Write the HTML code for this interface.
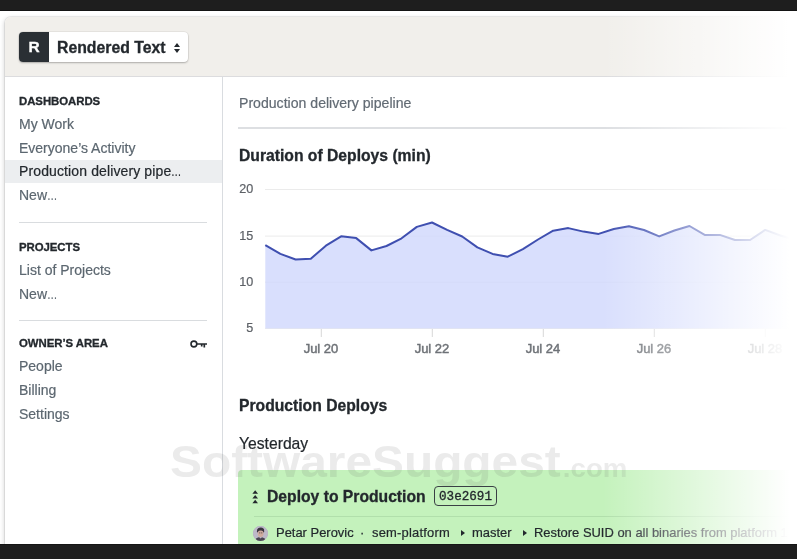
<!DOCTYPE html>
<html lang="en">
<head>
<meta charset="utf-8">
<title>Production delivery pipeline</title>
<style>
*{box-sizing:border-box;margin:0;padding:0}
html,body{width:797px;height:559px;overflow:hidden;background:#fff}
body{position:relative;font-family:"Liberation Sans",sans-serif;color:#2b3137;-webkit-font-smoothing:antialiased}
.topbar{position:absolute;left:0;top:0;width:797px;height:10px;background:#1e1e1e;border-bottom:1px solid #141414;height:11px;z-index:30}
.botbar{position:absolute;left:0;top:544px;width:797px;height:15px;background:#1e1e1e;border-top:1px solid #151515;z-index:30}
.win{position:absolute;left:5px;top:17px;width:900px;height:600px;background:#fff;border-radius:6px 0 0 0;box-shadow:0 0 0 1px rgba(0,0,0,.06),-1px 1px 4px rgba(0,0,0,.16);overflow:hidden}
.hdr{position:absolute;left:0;top:0;width:100%;height:60px;background:#f1efeb;border-bottom:1px solid #dcdcde}
.org{position:absolute;left:14px;top:15px;height:30px;width:169px;background:#fff;border-radius:4px;box-shadow:0 1px 2px rgba(0,0,0,.25),0 0 0 .5px rgba(0,0,0,.08)}
.org .sq{position:absolute;left:0;top:0;width:30px;height:30px;background:#2a2f34;border-radius:4px 0 0 4px;color:#fff;font-weight:bold;font-size:15.5px;line-height:30px;text-align:center;-webkit-text-stroke:.3px}
.org .nm{position:absolute;left:38px;top:0;line-height:32px;font-weight:bold;font-size:15.8px;color:#23282d;white-space:nowrap}
.org svg{position:absolute;left:155px;top:10.5px}
.side{position:absolute;left:0;top:60px;width:218px;height:540px;border-right:1px solid #d9dce0;background:#fff}
.side h4{position:absolute;left:14px;font-size:11.4px;font-weight:bold;letter-spacing:-.05px;color:#23282d;line-height:14px;white-space:nowrap}
.side a{position:absolute;left:14px;font-size:14px;color:#5c6770;line-height:18px;white-space:nowrap;text-decoration:none}
.side a.on{color:#23282d;letter-spacing:.12px}
.el{display:inline-block;transform:scaleX(.74);transform-origin:0 50%}

.side a,.crumb,.yest,.job .meta span{-webkit-text-stroke:.2px}
.org .nm,.main h2,.job .ttl,.side h4{-webkit-text-stroke:.3px}
.side .hl{position:absolute;left:0;top:83px;width:217px;height:23px;background:#eceef0}
.side hr{position:absolute;left:14px;width:188px;border:0;border-top:1px solid #d9dcdf;height:0}
.main{position:absolute;left:218px;top:60px;width:700px;height:540px}
.crumb{position:absolute;left:16px;top:17px;font-size:14.1px;color:#626b74;line-height:18px;white-space:nowrap}
.main hr.top{position:absolute;left:15px;top:50.3px;width:660px;border:0;height:1.4px;background:#dddfe2}
.main h2{position:absolute;left:16px;font-size:15.7px;font-weight:bold;color:#23282d;line-height:20px;white-space:nowrap}
.chart{position:absolute;left:0;top:0;z-index:5}
.yest{position:absolute;left:16px;top:357px;font-size:15.7px;color:#23282d;line-height:20px}
.job{position:absolute;left:15px;top:393px;width:680px;height:120px;background:#c4f2bc;border-radius:4px}
.job .ttl{position:absolute;left:29px;top:17px;font-size:15.7px;font-weight:bold;color:#23282d;line-height:20px;white-space:nowrap}
.job .sha{position:absolute;left:196px;top:16.3px;width:63px;height:20px;border:1px solid #3a4045;border-radius:4px;font-family:"Liberation Mono",monospace;font-size:12.6px;line-height:20.4px;text-align:center;color:#23282d;-webkit-text-stroke:.3px}
.job hr{position:absolute;left:16px;top:46px;width:660px;border:0;border-top:1px solid #b1dfab}
.job .meta span{position:absolute;top:54px;font-size:12.95px;color:#23282d;line-height:18px;white-space:nowrap}
.job .meta i{position:absolute;top:60px;width:0;height:0;border-left:4px solid #23282d;border-top:3.5px solid transparent;border-bottom:3.5px solid transparent}
.job .av{position:absolute;left:15.3px;top:55.6px;width:15px;height:15px;border-radius:50%;background:#a9a6b4;overflow:hidden}
.wm{position:absolute;left:170px;top:436px;font-size:45px;font-weight:bold;color:rgba(90,90,90,.12);line-height:52px;white-space:nowrap;z-index:20;transform:scaleX(1.063);transform-origin:0 0}
.wm small{font-size:26px;margin-left:2px}
.fade{position:absolute;left:603px;top:11px;width:194px;height:533px;background:linear-gradient(to right,rgba(255,255,255,0),rgba(255,255,255,1) 96%);z-index:25}
</style>
</head>
<body>
<div class="topbar"></div>
<div class="win">
  <div class="hdr">
    <div class="org"><div class="sq">R</div><div class="nm">Rendered Text</div>
      <svg width="6" height="10" viewBox="0 0 6 10"><path d="M3 0 L6 4 H0 Z M3 10 L0 6 H6 Z" fill="#23282d"/></svg>
    </div>
  </div>
  <div class="side">
    <div class="hl"></div>
    <h4 style="top:17px">DASHBOARDS</h4>
    <a style="top:38px">My Work</a>
    <a style="top:62px">Everyone’s Activity</a>
    <a class="on" style="top:85px">Production delivery pipe<span class="el">…</span></a>
    <a style="top:109px">New<span class="el">…</span></a>
    <hr style="top:145px">
    <h4 style="top:163px">PROJECTS</h4>
    <a style="top:184px">List of Projects</a>
    <a style="top:208px">New<span class="el">…</span></a>
    <hr style="top:243px">
    <h4 style="top:259px">OWNER’S AREA</h4>
    <svg style="position:absolute;left:185px;top:262.5px" width="18" height="9" viewBox="0 0 18 9"><circle cx="3.9" cy="4" r="2.9" fill="none" stroke="#23282d" stroke-width="1.6"/><path d="M6.8 4 H17 M11.7 4 V6.6 M14.3 4 V7.6" stroke="#23282d" stroke-width="1.7" fill="none"/></svg>
    <a style="top:280px">People</a>
    <a style="top:304px">Billing</a>
    <a style="top:328px">Settings</a>
  </div>
  <div class="main">
    <div class="crumb">Production delivery pipeline</div>
    <hr class="top">
    <h2 style="top:69px">Duration of Deploys (min)</h2>
    <h2 style="top:319px">Production Deploys</h2>
    <div class="yest">Yesterday</div>
    <div class="job">
      <svg style="position:absolute;left:14.3px;top:20.2px" width="6.4" height="14.6" viewBox="0 0 6 14"><path d="M3 0.3L5.7 3.6H0.3ZM3 4.8L5.7 8.1H0.3ZM3 9.3L5.7 12.6H0.3Z" fill="#23282d"/></svg>
      <div class="ttl">Deploy to Production</div>
      <div class="sha">03e2691</div>
      <hr>
      <svg class="av" viewBox="0 0 15 15"><rect width="15" height="15" fill="#bdb9c9"/><path d="M4 5.2C4 2.6 5.6 1.6 7.8 1.6S11.4 2.8 11.2 5.4L10.8 6.6H4.4Z" fill="#3b3640"/><ellipse cx="7.6" cy="7.4" rx="2.9" ry="3.5" fill="#cfac9f"/><path d="M4.6 5.6C5.6 4.2 9.4 4 10.6 5.6L10.8 3.6H4.4Z" fill="#3b3640"/><path d="M2 15C2.4 12 5 11.4 6.2 11.2L7.6 12.6L9 11.2C10.6 11.6 12.6 12.4 13 15Z" fill="#4a4652"/><path d="M6.1 6.9h1.2M8.1 6.9h1.2" stroke="#3b3640" stroke-width=".7"/></svg>
      <div class="meta"><span style="left:38px">Petar Perovic</span><span style="left:122px">·</span><span style="left:134px;letter-spacing:.2px">sem-platform</span><i style="left:222.5px"></i><span style="left:234px">master</span><i style="left:284.5px"></i><span style="left:296px">Restore SUID on all binaries from platform 1</span></div>
    </div>
  </div>
</div>
<svg class="chart" width="797" height="559" viewBox="0 0 797 559">
<g stroke="#ebebeb" stroke-width="1"><path d="M265 189.5H797M265 236.1H797M265 282.2H797M265 328.4H797"/></g>
<path d="M265.3 245.1 L280.4 253.9 L295.6 259.5 L310.8 258.7 L325.9 245.7 L341.1 236.3 L356.2 238.1 L371.4 250.4 L386.5 246.0 L401.6 238.3 L416.8 226.9 L432.0 222.5 L447.1 229.9 L462.2 236.5 L477.4 247.4 L492.6 253.9 L507.7 256.7 L522.9 249.2 L538.0 239.5 L553.2 230.7 L568.3 228.1 L583.5 231.6 L598.6 233.9 L613.8 229.0 L628.9 226.3 L644.0 230.0 L659.2 236.4 L674.4 230.5 L689.5 226.0 L704.7 234.9 L719.8 234.9 L735.0 240.0 L750.1 240.0 L765.2 229.9 L780.4 235.5 L795.5 240.0 L795.5 328.5 L265.3 328.5 Z" fill="rgba(207,215,253,.8)"/>
<path d="M265.3 245.1 L280.4 253.9 L295.6 259.5 L310.8 258.7 L325.9 245.7 L341.1 236.3 L356.2 238.1 L371.4 250.4 L386.5 246.0 L401.6 238.3 L416.8 226.9 L432.0 222.5 L447.1 229.9 L462.2 236.5 L477.4 247.4 L492.6 253.9 L507.7 256.7 L522.9 249.2 L538.0 239.5 L553.2 230.7 L568.3 228.1 L583.5 231.6 L598.6 233.9 L613.8 229.0 L628.9 226.3 L644.0 230.0 L659.2 236.4 L674.4 230.5 L689.5 226.0 L704.7 234.9 L719.8 234.9 L735.0 240.0 L750.1 240.0 L765.2 229.9 L780.4 235.5 L795.5 240.0" fill="none" stroke="#3f4fb0" stroke-width="2" stroke-linejoin="round"/>
<g stroke="#d8d8d8" stroke-width="1"><path d="M321.3 329V337M432.3 329V337M543.3 329V337M654.3 329V337M765.3 329V337"/></g>
<g font-family="'Liberation Sans',sans-serif" font-size="12.6" fill="#5d6167" stroke="#5d6167" stroke-width=".2" text-anchor="end"><text x="253.3" y="193.2">20</text><text x="253.3" y="239.7">15</text><text x="253.3" y="285.7">10</text><text x="253.3" y="332">5</text></g>
<g font-family="'Liberation Sans',sans-serif" font-size="13" fill="#6e7277" stroke="#6e7277" stroke-width=".45" text-anchor="middle"><text x="321" y="353">Jul 20</text><text x="432" y="353">Jul 22</text><text x="543" y="353">Jul 24</text><text x="654" y="353">Jul 26</text><text x="765" y="353">Jul 28</text></g>
</svg>
<div class="wm">SoftwareSuggest<small>.com</small></div>
<div class="fade"></div>
<div class="botbar"></div>
</body>
</html>
